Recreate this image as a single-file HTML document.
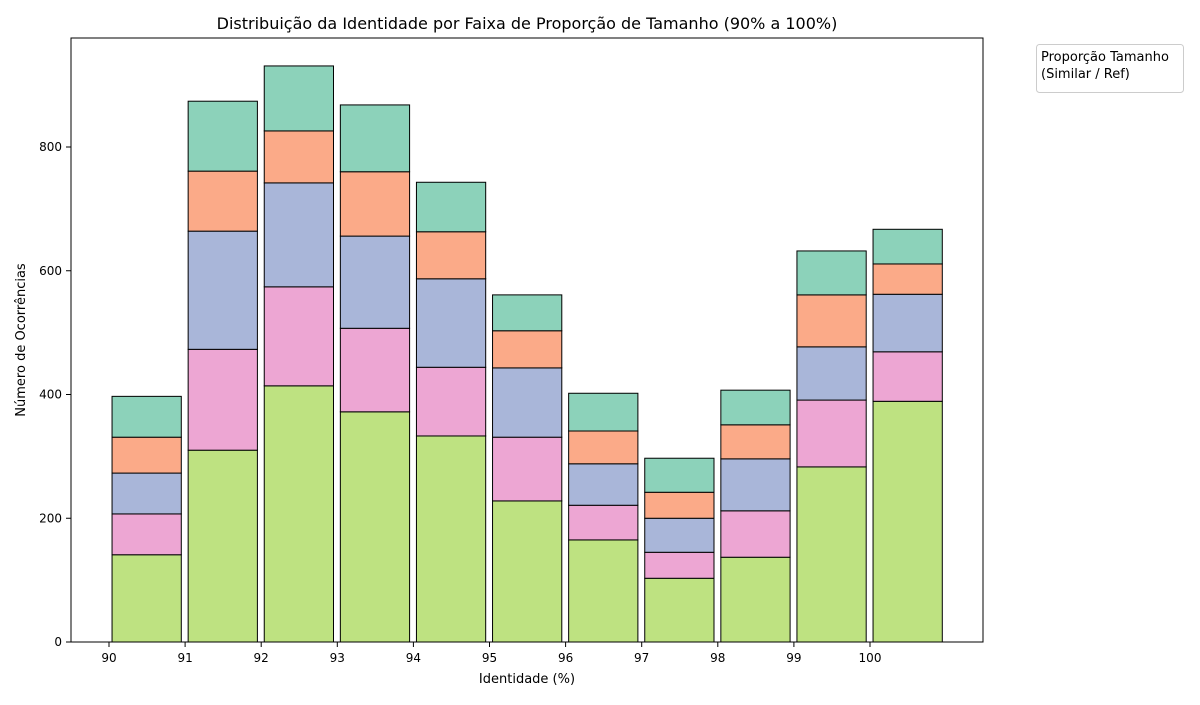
<!DOCTYPE html>
<html><head><meta charset="utf-8"><style>
body{margin:0;background:#fff;font-family:"Liberation Sans","DejaVu Sans",sans-serif}
svg text{font-family:"DejaVu Sans","Liberation Sans",sans-serif;fill:#000}
</style></head><body>
<svg id="chart" width="1200" height="700" viewBox="0 0 1200 700">
<text x="527" y="29" font-size="16" text-anchor="middle">Distribuição da Identidade por Faixa de Proporção de Tamanho (90% a 100%)</text>
<g id="bars"></g>
<rect x="71" y="38" width="912" height="604" fill="none" stroke="#000" stroke-width="1"/>
<g id="xticks"></g>
<g id="yticks"></g>
<text x="527" y="683" font-size="13" text-anchor="middle">Identidade (%)</text>
<text transform="translate(25,340) rotate(-90)" font-size="13" text-anchor="middle">Número de Ocorrências</text>
<g>
<rect x="1036.5" y="44.5" width="147" height="48" rx="3" fill="#fff" stroke="#ccc"/>
<text x="1041" y="61" font-size="13">Proporção Tamanho</text>
<text x="1041" y="78" font-size="13">(Similar / Ref)</text>
</g>
</svg>
<script>
const categories=[90,91,92,93,94,95,96,97,98,99,100];
const seriesGreen=[141,310,414,372,333,228,165,103,137,283,389];
const seriesPink=[66,163,160,135,111,103,56,42,75,108,80];
const seriesBlue=[66,191,168,149,143,112,67,55,84,86,93];
const seriesOrange=[58,97,84,104,76,60,53,42,55,84,49];
const seriesTeal=[66,113,105,108,80,58,61,55,56,71,56];
const yTicks=[0,200,400,600,800];
const xTickLabels=[90,91,92,93,94,95,96,97,98,99,100];

const NS="http://www.w3.org/2000/svg";
const xs=v=>109+(v-90)*76.1;
const ys=v=>642-v*0.61875;
const series=[[seriesGreen,"#bee281","green"],[seriesPink,"#eda6d3","pink"],[seriesBlue,"#a9b6d9","blue"],[seriesOrange,"#fbaa88","orange"],[seriesTeal,"#8cd2ba","teal"]];
const bars=document.getElementById('bars');
categories.forEach((c,i)=>{
  let base=0;
  series.forEach(([arr,col,nm])=>{
    const v=arr[i];
    const r=document.createElementNS(NS,'rect');
    const x0=xs(c+0.04), x1=xs(c+0.95);
    r.setAttribute('x',x0);r.setAttribute('width',x1-x0);
    r.setAttribute('y',ys(base+v));r.setAttribute('height',ys(base)-ys(base+v));
    r.setAttribute('fill',col);r.setAttribute('stroke','#000');r.setAttribute('stroke-width','1');
    
    
    bars.appendChild(r);
    base+=v;
  });
});
const xt=document.getElementById('xticks');
xTickLabels.forEach(t=>{
  const l=document.createElementNS(NS,'line');
  l.setAttribute('x1',xs(t));l.setAttribute('x2',xs(t));l.setAttribute('y1',642);l.setAttribute('y2',647);l.setAttribute('stroke','#000');
  
  
  xt.appendChild(l);
  const tx=document.createElementNS(NS,'text');
  tx.setAttribute('x',xs(t));tx.setAttribute('y',662);tx.setAttribute('font-size','12');tx.setAttribute('text-anchor','middle');
  tx.textContent=t;
  
  
  xt.appendChild(tx);
});
const yt=document.getElementById('yticks');
yTicks.forEach(t=>{
  const l=document.createElementNS(NS,'line');
  l.setAttribute('x1',66);l.setAttribute('x2',71);l.setAttribute('y1',ys(t));l.setAttribute('y2',ys(t));l.setAttribute('stroke','#000');
  
  
  yt.appendChild(l);
  const tx=document.createElementNS(NS,'text');
  tx.setAttribute('x',62);tx.setAttribute('y',ys(t)+4);tx.setAttribute('font-size','12');tx.setAttribute('text-anchor','end');
  tx.textContent=t;
  
  
  yt.appendChild(tx);
});
</script>
</body></html>
